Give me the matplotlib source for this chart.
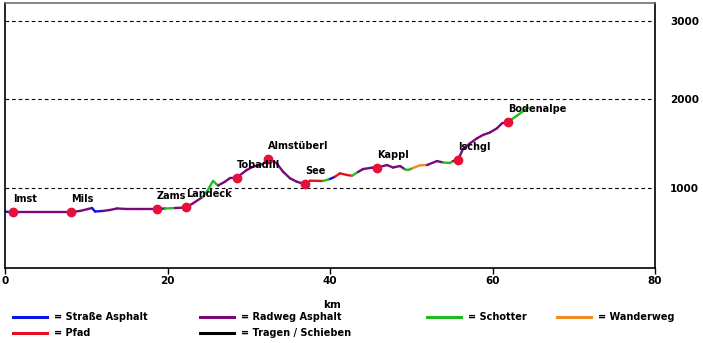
import numpy as np
import matplotlib
matplotlib.use("Agg")
import matplotlib.pyplot as plt
from matplotlib.lines import Line2D

# ---- data (km, elevation in m) ----
km = [0.0, 0.49, 1.02, 4.31, 8.12, 9.23, 10.22, 10.71, 11.08, 12.06, 12.92, 13.78,
      15.02, 16.62, 18.71, 19.69, 20.92, 22.28, 23.14, 24.37, 24.98, 25.60, 26.22,
      27.08, 27.69, 28.52, 29.75, 30.52, 31.75, 32.41, 33.44, 34.22, 35.08, 35.90,
      36.92, 37.54, 39.14, 40.00, 40.62, 41.23, 42.09, 42.71, 43.45, 44.06, 45.17,
      45.78, 47.02, 47.75, 48.62, 49.23, 49.60, 50.22, 51.08, 51.94, 53.17, 53.91,
      54.77, 55.14, 55.72, 56.37, 57.23, 58.09, 58.83, 59.69, 60.55, 61.17, 61.87,
      63.01, 64.37]
elev = [736, 730, 730, 730, 730, 742, 764, 775, 736, 742, 753, 770,
        764, 764, 764, 770, 775, 781, 828, 902, 978, 1079, 1028,
        1071, 1112, 1116, 1202, 1239, 1270, 1326, 1278, 1183, 1109, 1071,
        1042, 1082, 1079, 1101, 1127, 1165, 1146, 1138, 1180, 1213, 1228,
        1230, 1258, 1230, 1247, 1210, 1202, 1225, 1255, 1258, 1303, 1287,
        1281, 1303, 1311, 1438, 1502, 1558, 1596, 1624, 1671, 1727, 1742,
        1812, 1904]
# surface of each segment between consecutive points
surface = (["S"] + ["R"] * 6 + ["S", "S"] + ["R"] * 5 + ["S", "G"] + ["R"] * 3
           + ["G"] * 3 + ["R"] * 12 + ["P", "P", "G", "S", "P", "P", "P", "G"]
           + ["R"] * 7 + ["G", "G", "W", "W", "R", "R", "G", "G"] + ["R"] * 9
           + ["G", "G"])

place_names = ["Imst", "Mils", "Zams", "Landeck", "Tobadill", "Almstüberl",
               "See", "Kappl", "Ischgl", "Bodenalpe"]
place_km = [1.02, 8.12, 18.71, 22.28, 28.52, 32.41, 36.92, 45.78, 55.72, 61.87]
place_elev = [730, 730, 764, 781, 1116, 1326, 1042, 1230, 1311, 1742]

x_ticks = [0, 20, 40, 60, 80]
y_ticks = [1000, 2000, 3000]

surface_names = {"S": "= Straße Asphalt", "R": "= Radweg Asphalt", "G": "= Schotter",
                 "W": "= Wanderweg", "P": "= Pfad", "T": "= Tragen / Schieben"}
colors = {"S": "#0a14e6", "R": "#7a0a7a", "G": "#22bb22", "W": "#f08c20",
          "P": "#e41020", "T": "#000000"}

W, H = 703, 343
fig = plt.figure(figsize=(W / 100, H / 100), dpi=100)
ax = fig.add_axes([5 / W, (H - 268) / H, 650 / W, 265 / H])

# uneven elevation axis of the reference
E_k = [0, 1000, 2000, 3000, 4000]
U_k = [-9, 80, 169, 247, 325]
fwd = lambda v: np.interp(v, E_k, U_k)
inv = lambda u: np.interp(u, U_k, E_k)
ax.set_yscale("function", functions=(fwd, inv))
ax.set_xlim(0, 80)
ax.set_ylim(101.1, 3230.8)

for yv in y_ticks:
    ax.axhline(yv, color="black", lw=0.8, ls=(0, (3.3, 2.6)), zorder=1)

for i, s in enumerate(surface):
    ax.plot(km[i:i + 2], elev[i:i + 2], color=colors[s], lw=1.7,
            solid_capstyle="round", zorder=2)

ax.plot(place_km, place_elev, "o", color="#e8103a", ms=6, zorder=3)
for n, xk, ye in zip(place_names, place_km, place_elev):
    ax.annotate(n, (xk, ye), xytext=(0, 13), textcoords="offset pixels",
                ha="left", va="center", fontsize=7, fontweight="bold", zorder=4)

ax.set_xticks(x_ticks)
ax.set_xticklabels([str(v) for v in x_ticks])
ax.set_yticks(y_ticks)
ax.set_yticklabels([str(v) for v in y_ticks])
ax.yaxis.set_minor_locator(matplotlib.ticker.NullLocator())
ax.yaxis.tick_right()
ax.tick_params(axis="y", length=0, pad=11, labelsize=7.5)
for lab in ax.get_yticklabels():
    lab.set_fontweight("bold")
ax.tick_params(axis="x", length=4, width=1, pad=2, labelsize=7.5, direction="out")
for lab in ax.get_xticklabels():
    lab.set_fontweight("bold")

for sp in ["left", "bottom", "right"]:
    ax.spines[sp].set_color("black")
    ax.spines[sp].set_linewidth(1.2)
ax.spines["top"].set_color("#707070")
ax.spines["top"].set_linewidth(1.2)

fig.text(332 / W, 1 - 305 / H, "km", ha="center", va="center",
         fontsize=7.5, fontweight="bold")

legend_layout = [("S", 13, 317), ("R", 200, 317), ("G", 427, 317), ("W", 557, 317),
                 ("P", 13, 333), ("T", 200, 333)]
for code, x0, yy in legend_layout:
    fig.add_artist(Line2D([x0 / W, (x0 + 34) / W], [1 - yy / H, 1 - yy / H],
                          color=colors[code], lw=2.2, transform=fig.transFigure))
    fig.text((x0 + 41) / W, 1 - yy / H, surface_names[code], ha="left",
             va="center", fontsize=7, fontweight="bold")

fig.savefig("out.png", dpi=100)
